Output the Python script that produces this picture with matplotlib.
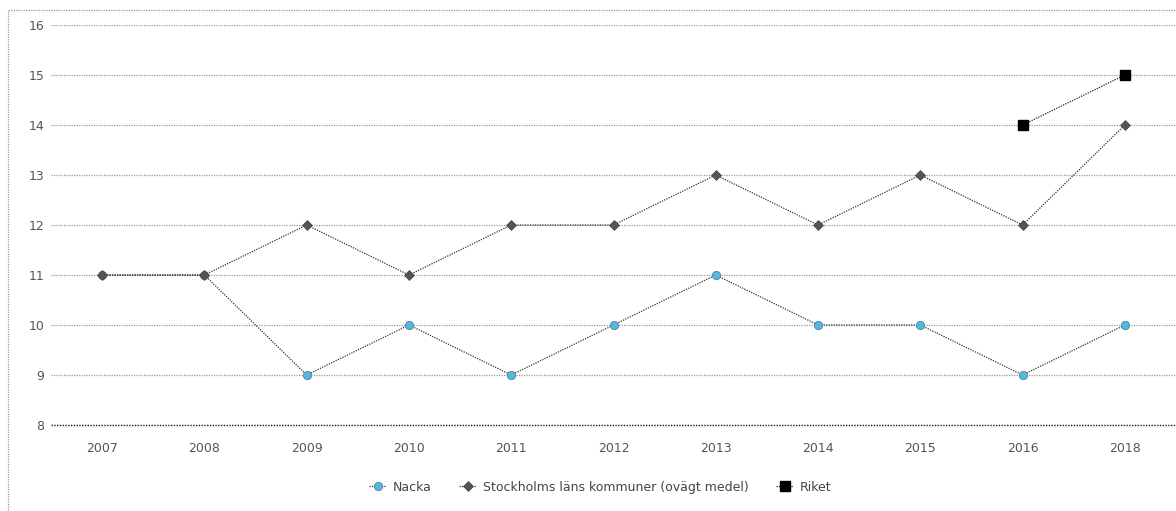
import numpy as np
import matplotlib.pyplot as plt
from matplotlib.patches import Rectangle

years = ['2007', '2008', '2009', '2010', '2011', '2012', '2013', '2014', '2015', '2016', '2018']
nacka = [11, 11, 9, 10, 9, 10, 11, 10, 10, 9, 10]
stockholm = [11, 11, 12, 11, 12, 12, 13, 12, 13, 12, 14]
riket = [np.nan] * 9 + [14, 15]
yticks = list(range(8, 17))

plt.rcParams['font.family'] = ['DejaVu Sans']

W, H = 1176, 511
fig = plt.figure(figsize=(W / 100, H / 100), dpi=100)
ax = fig.add_axes((51 / W, 1 - 425 / H, 1 - 51 / W, 400 / H))

dots = (0, (1, 1))
x = np.arange(len(years))
ax.plot(x, nacka, color='#333333', lw=0.9, ls=dots, marker='o', ms=6,
        mfc='#5ab4e0', mec='#3a7aa0', mew=0.5, label='Nacka', zorder=3)
ax.plot(x, stockholm, color='#333333', lw=0.9, ls=dots, marker='D', ms=5,
        mfc='#555555', mec='#444444', mew=0.5,
        label='Stockholms läns kommuner (ovägt medel)', zorder=4)
ax.plot(x, riket, color='#222222', lw=0.9, ls=dots, marker='s', ms=7,
        mfc='black', mec='black', label='Riket', zorder=5)

ax.set_xlim(-0.5, len(years) - 0.5)
ax.set_ylim(8, 16)
ax.set_xticks(x)
ax.set_xticklabels(years)
ax.set_yticks(yticks)
ax.tick_params(length=0, colors='#555555', labelsize=9)
ax.tick_params(axis='x', pad=12)
ax.tick_params(axis='y', pad=5)
ax.yaxis.grid(True, color='#9a9a9a', lw=0.9, ls=dots)
ax.set_axisbelow(True)
for s in ax.spines.values():
    s.set_visible(False)
ax.axhline(8, color='#222222', lw=1.0, ls=dots, zorder=2, clip_on=False)

leg = fig.legend(loc='center', bbox_to_anchor=(600 / W, 1 - 487 / H), ncol=3,
                 frameon=False, fontsize=9, handlelength=1.4, columnspacing=2.2,
                 handletextpad=0.5)
for t in leg.get_texts():
    t.set_color('#444444')

fig.patches.append(Rectangle((8 / W, -0.05), 1.1, 1 - 10 / H + 0.05,
                             transform=fig.transFigure, fill=False,
                             ec='#999999', lw=0.9, ls=dots))

fig.savefig('out.png', dpi=100)
